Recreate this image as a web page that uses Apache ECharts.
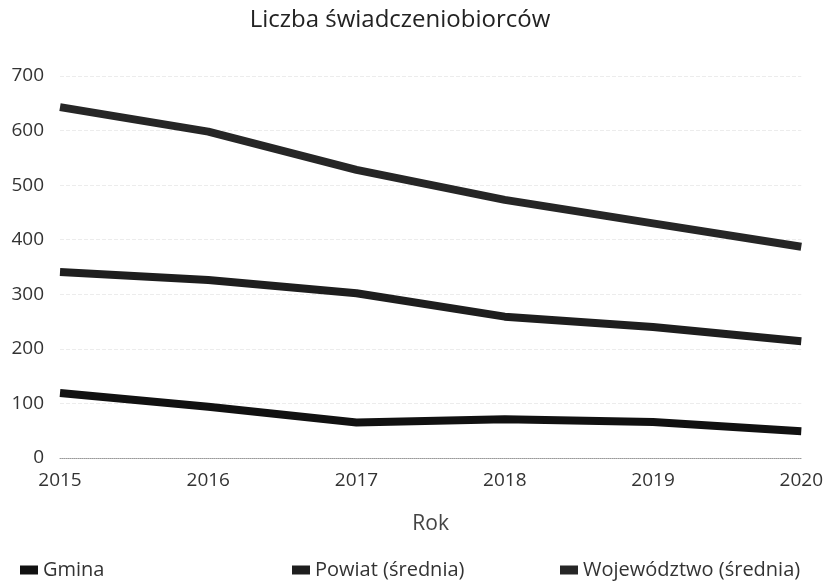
<!DOCTYPE html>
<html>
<head>
<meta charset="utf-8">
<script src="https://cdn.jsdelivr.net/npm/echarts@6/dist/echarts.min.js"></script>
<style>
  html, body { margin: 0; padding: 0; background: #fff; }
  #chart { width: 826px; height: 583px; }
</style>
</head>
<body>
<div id="chart"></div>
<script>
const years = ['2015', '2016', '2017', '2018', '2019', '2020']
const gmina = [119, 94, 65, 71, 66, 49]
const powiat = [341, 326, 302, 259, 240, 214]
const wojewodztwo = [643, 598, 528, 473, 430, 387]

const FONT = 'Open Sans, Noto Sans, sans-serif'
const TEXT = '#333'

const chart = echarts.init(document.getElementById('chart'))

// one legend per item so each can sit where the original puts it
function legendAt(left, name) {
  return {
    left, top: 555, data: [name],
    icon: 'rect', itemWidth: 18, itemHeight: 9, itemGap: 8,
    textStyle: { color: TEXT, fontSize: 20, fontFamily: FONT },
  }
}

function line(name, data, color) {
  return {
    name, type: 'line', data,
    showSymbol: false, symbol: 'none',
    lineStyle: { width: 8, color, cap: 'butt', join: 'round' },
    itemStyle: { color },
  }
}

chart.setOption({
  animation: false,
  backgroundColor: '#fff',
  textStyle: { fontFamily: FONT },
  title: {
    text: 'Liczba świadczeniobiorców',
    left: 395, top: 3, textAlign: 'center',
    textStyle: { color: '#222', fontSize: 24, fontWeight: 'normal', fontFamily: FONT },
  },
  grid: { left: 60, right: 24, top: 76, bottom: 125, containLabel: false },
  legend: [
    legendAt(15, 'Gmina'),
    legendAt(287, 'Powiat (średnia)'),
    legendAt(555, 'Województwo (średnia)'),
  ],
  xAxis: {
    type: 'category', data: years, boundaryGap: false,
    name: 'Rok', nameLocation: 'middle', nameGap: 56,
    nameTextStyle: { color: '#444', fontSize: 21, fontFamily: FONT },
    axisLine: { lineStyle: { color: '#999', type: 'dotted', width: 1 } },
    axisTick: { show: false },
    axisLabel: { color: TEXT, fontSize: 19, margin: 13, fontFamily: FONT },
    splitLine: { show: false },
  },
  yAxis: {
    type: 'value', min: 0, max: 700, interval: 100,
    axisLine: { show: false }, axisTick: { show: false },
    axisLabel: { color: TEXT, fontSize: 19, margin: 16, fontFamily: FONT },
    splitLine: { lineStyle: { color: '#ececec', type: 'dashed', width: 1 } },
  },
  series: [
    line('Gmina', gmina, '#111'),
    line('Powiat (średnia)', powiat, '#1e1e1e'),
    line('Województwo (średnia)', wojewodztwo, '#262626'),
  ],
})
</script>
</body>
</html>
